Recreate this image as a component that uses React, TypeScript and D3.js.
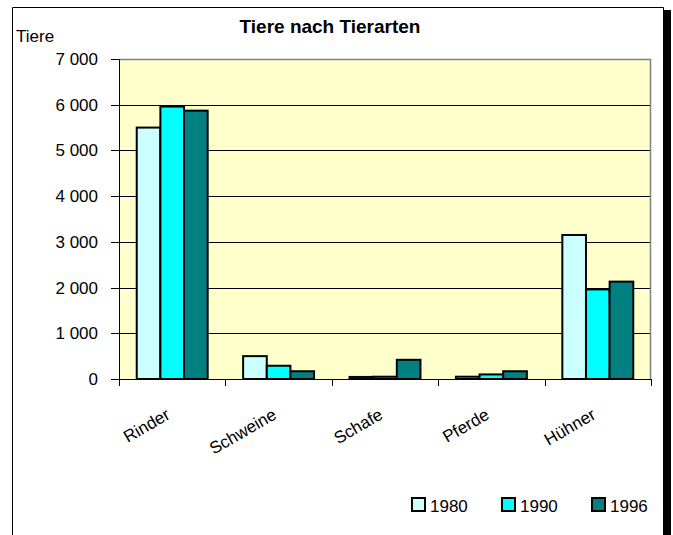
import * as React from "react";
import * as d3 from "d3";

const categories = ["Rinder", "Schweine", "Schafe", "Pferde", "Hühner"];
const years = ["1980", "1990", "1996"];
const values1980 = [5500, 500, 45, 50, 3150];
const values1990 = [5960, 290, 50, 100, 1960];
const values1996 = [5870, 170, 420, 170, 2130];
const colors = ["#CCFFFF", "#00FFFF", "#008080"];
const yTicks = [0, 1000, 2000, 3000, 4000, 5000, 6000, 7000];

const font = "'Liberation Sans', Arial, sans-serif";

const TierChart = () => {
  const svgRef = React.useRef<SVGSVGElement>(null);

  React.useEffect(() => {
    const width = 673;
    const height = 535;
    const plot = { left: 119, right: 651, top: 59, bottom: 379 };
    const series = [values1980, values1990, values1996];

    const svg = d3.select(svgRef.current);
    svg.selectAll("*").remove();
    svg.attr("width", width).attr("height", height);

    // outer frame + shadow on the right
    svg
      .append("rect")
      .attr("x", 664)
      .attr("y", 10)
      .attr("width", 7)
      .attr("height", height - 10)
      .attr("fill", "#000");
    svg
      .append("path")
      .attr("d", `M12.5,${height} V7.5 H663.5 V${height}`)
      .attr("fill", "none")
      .attr("stroke", "#000")
      .attr("stroke-width", 1);

    const x = d3
      .scaleBand()
      .domain(categories)
      .range([plot.left, plot.right])
      .padding(0);

    const xInner = d3
      .scaleBand()
      .domain(years)
      .range([0, x.bandwidth()])
      .paddingInner(0)
      .paddingOuter(0.75);

    const y = d3.scaleLinear().domain([0, 7000]).range([plot.bottom, plot.top]);

    // plot background
    svg
      .append("rect")
      .attr("x", plot.left)
      .attr("y", plot.top)
      .attr("width", plot.right - plot.left)
      .attr("height", plot.bottom - plot.top)
      .attr("fill", "#FFFFCC");

    // gridlines
    svg
      .append("g")
      .selectAll("line")
      .data(yTicks.filter((t) => t > 0 && t < 7000))
      .enter()
      .append("line")
      .attr("x1", plot.left)
      .attr("x2", plot.right)
      .attr("y1", (d) => Math.round(y(d)) + 0.5)
      .attr("y2", (d) => Math.round(y(d)) + 0.5)
      .attr("stroke", "#000")
      .attr("stroke-width", 1);

    // gray top / right border of plot area
    svg
      .append("path")
      .attr("d", `M${plot.left},${plot.top + 0.5} H${plot.right - 0.5} V${plot.bottom}`)
      .attr("fill", "none")
      .attr("stroke", "#808080")
      .attr("stroke-width", 1.5);

    // bars
    const groups = svg
      .append("g")
      .selectAll("g")
      .data(years)
      .enter()
      .append("g")
      .attr("fill", (d, i) => colors[i]);

    groups
      .selectAll("rect")
      .data((d, i) => series[i].map((v, j) => ({ year: d, cat: categories[j], value: v })))
      .enter()
      .append("rect")
      .attr("x", (d) => x(d.cat) + xInner(d.year))
      .attr("y", (d) => y(d.value))
      .attr("width", xInner.bandwidth())
      .attr("height", (d) => plot.bottom - y(d.value))
      .attr("stroke", "#000")
      .attr("stroke-width", 2);

    // y axis
    const yAxis = svg.append("g");
    yAxis
      .append("line")
      .attr("x1", plot.left + 0.5)
      .attr("x2", plot.left + 0.5)
      .attr("y1", plot.top)
      .attr("y2", plot.bottom + 7)
      .attr("stroke", "#000");
    yAxis
      .selectAll("line.tick")
      .data(yTicks)
      .enter()
      .append("line")
      .attr("class", "tick")
      .attr("x1", plot.left - 8)
      .attr("x2", plot.left)
      .attr("y1", (d) => Math.round(y(d)) + 0.5)
      .attr("y2", (d) => Math.round(y(d)) + 0.5)
      .attr("stroke", "#000");
    yAxis
      .selectAll("text")
      .data(yTicks)
      .enter()
      .append("text")
      .attr("x", 98)
      .attr("y", (d) => y(d) + 6)
      .attr("text-anchor", "end")
      .attr("font-family", font)
      .attr("font-size", 17)
      .attr("fill", "#000")
      .text((d) => d3.format(",")(d).replace(/,/g, " "));

    // x axis
    const xAxis = svg.append("g");
    xAxis
      .append("line")
      .attr("x1", plot.left - 8)
      .attr("x2", plot.right)
      .attr("y1", plot.bottom + 0.5)
      .attr("y2", plot.bottom + 0.5)
      .attr("stroke", "#000");
    const bounds = categories.map((c) => x(c)).concat([plot.right]);
    xAxis
      .selectAll("line.tick")
      .data(bounds)
      .enter()
      .append("line")
      .attr("class", "tick")
      .attr("x1", (d) => Math.round(d) + 0.5)
      .attr("x2", (d) => Math.round(d) + 0.5)
      .attr("y1", plot.bottom)
      .attr("y2", plot.bottom + 7)
      .attr("stroke", "#000");
    xAxis
      .selectAll("text")
      .data(categories)
      .enter()
      .append("text")
      .attr("transform", (d) => `translate(${x(d) + x.bandwidth() / 2 - 1},${plot.bottom + 39}) rotate(-30)`)
      .attr("text-anchor", "end")
      .attr("font-family", font)
      .attr("font-size", 17)
      .attr("fill", "#000")
      .text((d) => d);

    // title and axis label
    svg
      .append("text")
      .attr("x", 330)
      .attr("y", 33)
      .attr("text-anchor", "middle")
      .attr("font-family", font)
      .attr("font-size", 19)
      .attr("font-weight", "bold")
      .text("Tiere nach Tierarten");
    svg
      .append("text")
      .attr("x", 16)
      .attr("y", 42)
      .attr("font-family", font)
      .attr("font-size", 17)
      .text("Tiere");

    // legend
    const legend = svg
      .append("g")
      .selectAll("g")
      .data(years)
      .enter()
      .append("g")
      .attr("transform", (d, i) => `translate(${412 + i * 90},498)`);
    legend
      .append("rect")
      .attr("width", 13)
      .attr("height", 13)
      .attr("fill", (d, i) => colors[i])
      .attr("stroke", "#000")
      .attr("stroke-width", 2);
    legend
      .append("text")
      .attr("x", 18)
      .attr("y", 14)
      .attr("font-family", font)
      .attr("font-size", 17)
      .text((d) => d);
  }, []);

  return <svg ref={svgRef} style={{ display: "block" }} />;
};

export default function App() {
  return (
    <div style={{ position: "absolute", left: 0, top: 0 }}>
      <TierChart />
    </div>
  );
}
